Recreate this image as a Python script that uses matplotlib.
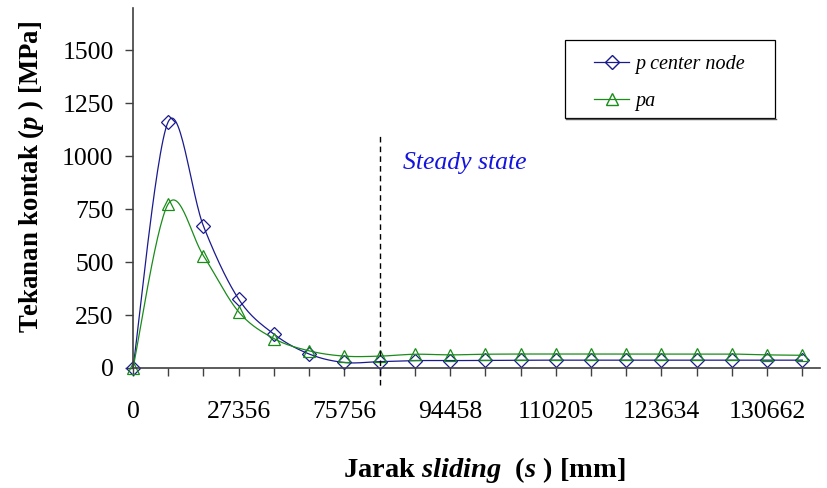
import numpy as np
import matplotlib
matplotlib.use("Agg")
import matplotlib.pyplot as plt
from matplotlib.patches import Rectangle
from matplotlib.lines import Line2D

plt.rcParams["font.family"] = "Liberation Serif"
plt.rcParams["mathtext.fontset"] = "custom"
plt.rcParams["mathtext.rm"] = "Liberation Serif"
plt.rcParams["mathtext.it"] = "Liberation Serif:italic"
plt.rcParams["mathtext.bf"] = "Liberation Serif:bold"
plt.rcParams["mathtext.bfit"] = "Liberation Serif:italic:bold"

# data, 20 sliding-distance categories
tick_labels = ["0", "", "", "27356", "", "", "75756", "", "", "94458",
               "", "", "110205", "", "", "123634", "", "", "130662", ""]
p_center = [0, 1163, 670, 325, 160, 66, 26, 30, 35, 35,
            36, 37, 37, 37, 37, 37, 37, 37, 37, 37]
pa = [0, 775, 530, 265, 139, 81, 56, 56, 65, 62,
      65, 66, 66, 66, 66, 66, 66, 66, 62, 60]
steady_idx = 7

x = np.arange(len(tick_labels))


def smooth(xs, ys, n=30):
    # Excel-like smoothed line (Catmull-Rom bezier through the points)
    xs = np.asarray(xs, float)
    ys = np.asarray(ys, float)
    px = np.concatenate([[xs[0]], xs, [xs[-1]]])
    py = np.concatenate([[ys[0]], ys, [ys[-1]]])
    ox, oy = [], []
    t = np.linspace(0, 1, n)
    for i in range(1, len(px) - 2):
        p0 = np.array([px[i], py[i]])
        p3 = np.array([px[i + 1], py[i + 1]])
        c1 = p0 + (np.array([px[i + 1], py[i + 1]]) - np.array([px[i - 1], py[i - 1]])) / 6
        c2 = p3 - (np.array([px[i + 2], py[i + 2]]) - np.array([px[i], py[i]])) / 6
        b = ((1 - t) ** 3)[:, None] * p0 + (3 * (1 - t) ** 2 * t)[:, None] * c1 \
            + (3 * (1 - t) * t ** 2)[:, None] * c2 + (t ** 3)[:, None] * p3
        ox.extend(b[:, 0])
        oy.extend(b[:, 1])
    return ox, oy


blue = "#1a1a8f"
green = "#1a8c1a"

fig = plt.figure(figsize=(8.27, 4.88), dpi=100)
ax = fig.add_axes([133 / 827, 1 - 368 / 488, (820 - 133) / 827, (368 - 8) / 488])

sx, sy = smooth(x, p_center)
ax.plot(sx, sy, color=blue, lw=0.9, clip_on=False)
ax.plot(x, p_center, ls="none", marker="D", ms=7, mfc="none", mec=blue, mew=0.9, clip_on=False)
sx, sy = smooth(x, pa)
ax.plot(sx, sy, color=green, lw=0.9, clip_on=False)
ax.plot(x, pa, ls="none", marker="^", ms=9, mfc="none", mec=green, mew=0.9, clip_on=False)

ax.plot([steady_idx, steady_idx], [-80, 1100], color="black", ls=(0, (4, 3)), lw=1, clip_on=False)
ax.text(7.65, 970, "Steady state", color="#1414e0", style="italic", fontsize=18.5, va="center", ha="left")

ax.set_xlim(0, 19.5)
ax.set_ylim(0, 1700)
ax.set_xticks(x)
ax.set_xticklabels(tick_labels)
ax.set_yticks([0, 250, 500, 750, 1000, 1250, 1500])
ax.tick_params(axis="x", direction="out", length=6, width=1, color="#404040", labelsize=18.5, pad=18)
ax.tick_params(axis="y", direction="out", length=6, width=1, color="#404040", labelsize=18.5, pad=8)
for s in ["top", "right"]:
    ax.spines[s].set_visible(False)
for s in ["left", "bottom"]:
    ax.spines[s].set_color("#404040")
    ax.spines[s].set_linewidth(1.2)

fig.text(31 / 827, 1 - 177 / 488, r"Tekanan kontak ($\mathbfit{p}$ ) [MPa]", rotation=90,
         fontsize=19.3, fontweight="bold", ha="center", va="center")
fig.text(484 / 827, 1 - 470 / 488, r"Jarak $\mathbfit{sliding}$  ($\mathbfit{s}$ ) [mm]",
         fontsize=20.5, fontweight="bold", ha="center", va="center")

# legend
fig.patches.append(Rectangle((565 / 827, 1 - 118 / 488), 210 / 827, 78 / 488,
                             transform=fig.transFigure, fill=False, ec="black", lw=0.9))
fig.add_artist(Line2D([566 / 827, 776 / 827], [1 - 119 / 488, 1 - 119 / 488],
                      transform=fig.transFigure, color="#555555", lw=1))
handles = [Line2D([], [], color=blue, lw=0.9, marker="D", ms=7, mfc="none", mec=blue),
           Line2D([], [], color=green, lw=0.9, marker="^", ms=9, mfc="none", mec=green)]
fig.legend(handles, ["p center node", "pa"], loc="upper left",
           bbox_to_anchor=(594 / 827, 1 - 55 / 488), frameon=False, borderaxespad=0,
           prop={"style": "italic", "size": 14.5}, handlelength=1.75, handletextpad=0.3,
           labelspacing=0.9, borderpad=0)

fig.savefig("out.png", dpi=100)
